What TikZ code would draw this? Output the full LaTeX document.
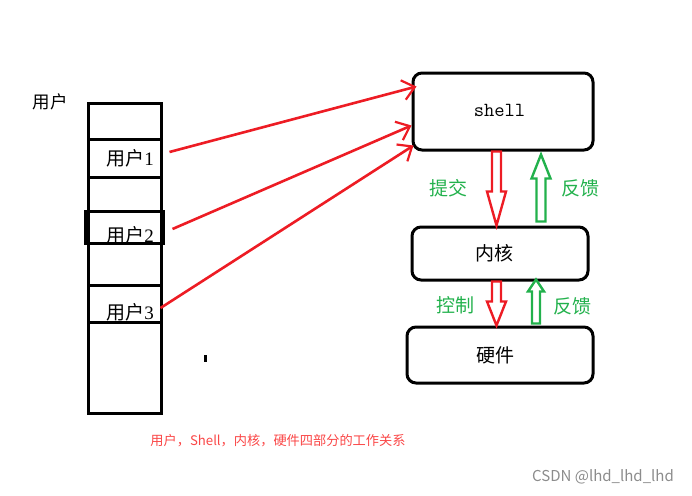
\documentclass[tikz,border=0pt]{standalone}
\usepackage{fontspec}
\setmainfont{Liberation Serif}
\newfontfamily\cjk{Noto Sans CJK SC}
\newfontfamily\capfont{Noto Sans CJK SC}
\usetikzlibrary{arrows.meta,calc}
\definecolor{myred}{RGB}{237,28,36}
\definecolor{mygreen}{RGB}{34,177,76}
\definecolor{capred}{RGB}{250,70,70}
\definecolor{wmgrey}{RGB}{140,140,140}

\begin{document}
\begin{tikzpicture}[x=1pt,y=-1pt,
	slot/.style={draw,line width=3pt,inner sep=0pt},
	part/.style={draw,line width=3pt,rounded corners=9pt,inner sep=0pt},
	sendline/.style={myred,line width=2.6pt,-{Straight Barb[length=12pt,width=20pt,line width=2.2pt]}},
	downarrow/.style={myred,line width=2.4pt,line join=miter},
	uparrow/.style={mygreen,line width=2.4pt,line join=miter},
	greentext/.style={mygreen,font=\cjk\fontsize{19}{19}\selectfont}]
		\useasboundingbox (0,0) rectangle (692,495);
		
		% user column
		\node[slot,minimum width=73pt,minimum height=310pt] (col) at (124.5,258) {};
		\node[slot,minimum width=73pt,minimum height=38pt] (u1) at (124.5,158) {};
		\node[slot,minimum width=78pt,minimum height=32pt] (u2) at (124,227) {};
		\node[slot,minimum width=73pt,minimum height=37pt] (u3) at (124.5,303.5) {};
		\node[font=\fontsize{19}{19}\selectfont] (t1) at (130,158) {{\cjk 用户}1};
		\node[font=\fontsize{19}{19}\selectfont] (t2) at (130,235) {{\cjk 用户}2};
		\node[font=\fontsize{19}{19}\selectfont] (t3) at (130,312) {{\cjk 用户}3};
		\node[font=\cjk\fontsize{17.5}{17.5}\selectfont] (users) at (50,102) {用户};
		\fill (203.5,355) rectangle (207,362);
		
		% parts
		\node[part,minimum width=180pt,minimum height=77pt] (shell) at (503,111.5) {};
		\node[font=\ttfamily\fontsize{20}{20}\selectfont] (shelltext) at (499.5,110) {shell};
		\node[part,minimum width=176pt,minimum height=53pt,font=\cjk\fontsize{19}{19}\selectfont] (kernel) at (500,253.5) {\hspace*{-12pt}内核};
		\node[part,minimum width=186pt,minimum height=56pt,font=\cjk\fontsize{19}{19}\selectfont] (hw) at (500,355) {\hspace*{-10pt}硬件};
		
		% users to shell
		\coordinate (s1) at ($(u1.east)+(7,-6)$);
		\coordinate (s2) at ($(u2.east)+(8,2)$);
		\coordinate (s3) at ($(u3.east)+(-2,4.5)$);
		\coordinate (e1) at ($(shell.north west)+(5,15)$);
		\coordinate (e2) at ($(shell.north west)+(0,54)$);
		\coordinate (e3) at ($(shell.north west)+(2,74)$);
		\draw[sendline] (s1) -- (e1);
		\draw[sendline] (s2) -- (e2);
		\draw[sendline] (s3) -- (e3);
		
		% shell <-> kernel
		\coordinate (d1) at (shell.south -| 496.5,0);
		\draw[downarrow] ($(d1)+(-4.5,0)$) -- ++(0,40) -- ++(-5,0) -- ($(kernel.north -| d1)+(0,0)$)
			-- ($(d1)+(9.5,40)$) -- ++(-5,0) -- ++(0,-40) -- cycle;
		\coordinate (g1) at (kernel.north -| 541,0);
		\draw[uparrow] ($(g1)+(-4.5,-4)$) -- ++(0,-43) -- ++(-5,0) -- ($(shell.south -| g1)+(0,3)$)
			-- ($(g1)+(9.5,-47)$) -- ++(-5,0) -- ++(0,43) -- cycle;
		\node[greentext] (submit) at (448,188) {提交};
		\node[greentext] (fb1) at (580,188) {反馈};
		
		% kernel <-> hardware
		\coordinate (d2) at (kernel.south -| 496.5,0);
		\draw[downarrow] ($(d2)+(-4.5,0)$) -- ++(0,20) -- ++(-5,0) -- (hw.north -| d2)
			-- ($(d2)+(9.5,20)$) -- ++(-5,0) -- ++(0,-20) -- cycle;
		\coordinate (g2) at (hw.north -| 536,0);
		\draw[uparrow] ($(g2)+(-4,-2)$) -- ++(0,-32) -- ++(-4,0) -- ($(kernel.south -| g2)+(0,-2)$)
			-- ($(g2)+(8,-34)$) -- ++(-4,0) -- ++(0,32) -- cycle;
		\node[greentext] (ctrl) at (455,305) {控制};
		\node[greentext] (fb2) at (572,306) {反馈};
		
		% caption
		\node[capred,font=\capfont\fontsize{13.2}{13.2}\selectfont] (caption) at (278,441) {用户，Shell，内核，硬件四部分的工作关系};
		\node[wmgrey,font=\capfont\fontsize{15}{15}\selectfont] (mark) at (603,477) {CSDN @lhd\_lhd\_lhd};
	\end{tikzpicture}
\end{document}
